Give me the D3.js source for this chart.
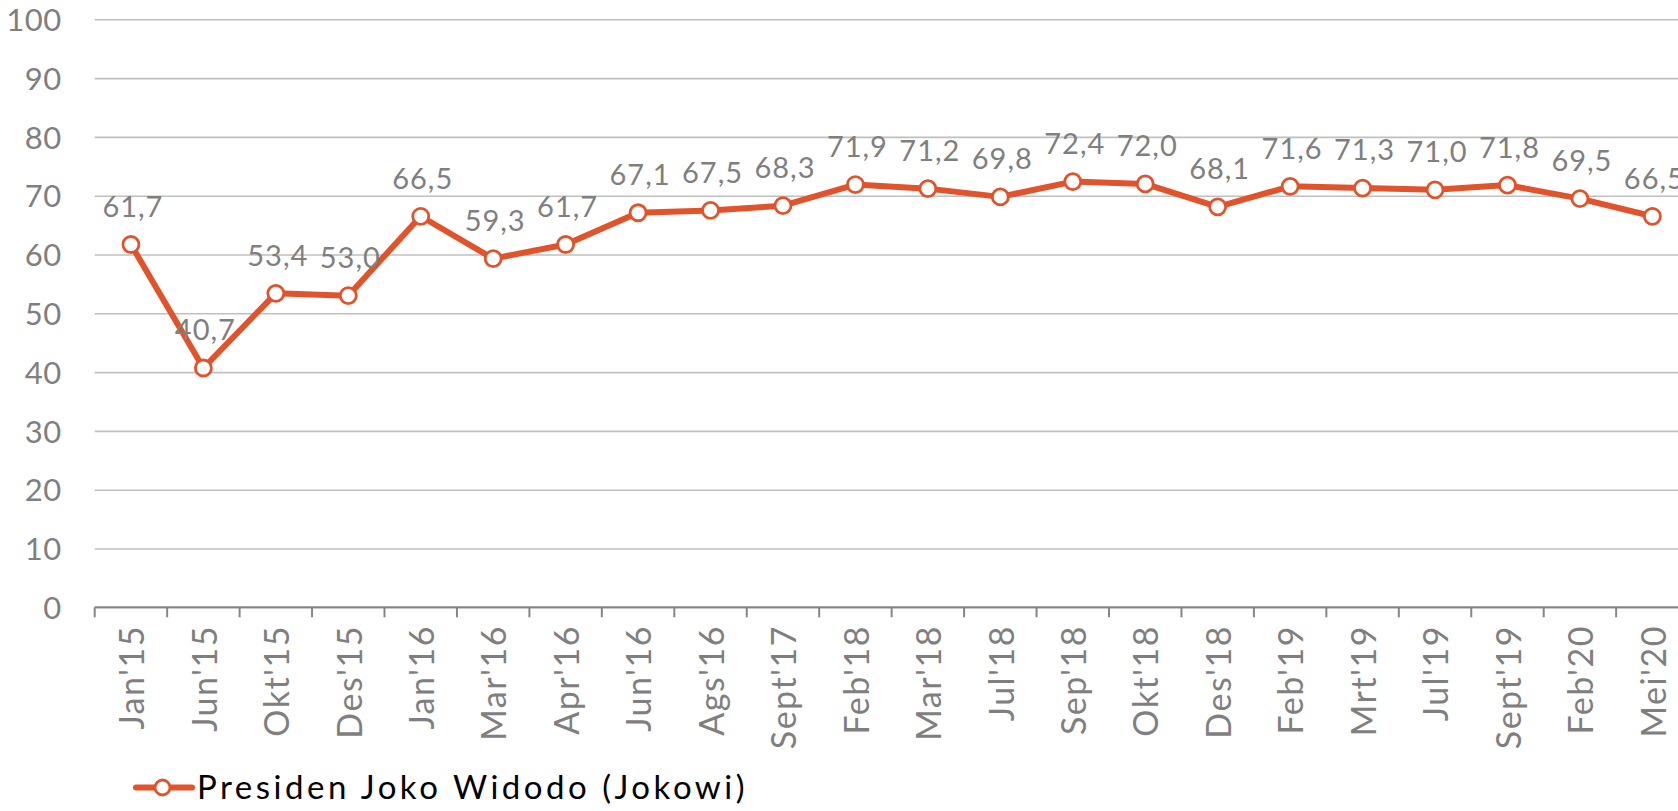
<!DOCTYPE html>
<html>
<head>
<meta charset="utf-8" />
<script src="https://cdn.jsdelivr.net/npm/d3@7"></script>
<style>
  html, body { margin: 0; padding: 0; background: #fff; overflow: hidden; }
  svg { display: block; font-family: Lato, "Open Sans", sans-serif; }
</style>
</head>
<body>
<div id="chart"></div>
<script>
// Data
const categories = ["Jan'15", "Jun'15", "Okt'15", "Des'15", "Jan'16", "Mar'16", "Apr'16", "Jun'16",
    "Ags'16", "Sept'17", "Feb'18", "Mar'18", "Jul'18", "Sep'18", "Okt'18", "Des'18", "Feb'19",
    "Mrt'19", "Jul'19", "Sept'19", "Feb'20", "Mei'20"];
const approval = [61.7, 40.7, 53.4, 53.0, 66.5, 59.3, 61.7, 67.1, 67.5, 68.3, 71.9, 71.2, 69.8,
    72.4, 72.0, 68.1, 71.6, 71.3, 71.0, 71.8, 69.5, 66.5];
const yTicks = [0, 10, 20, 30, 40, 50, 60, 70, 80, 90, 100];
const seriesName = "Presiden Joko Widodo (Jokowi)";

const width = 1678;
const height = 811;
const margin = { top: 19.3, left: 94.7, bottom: 607.3, right: 1688.6 };

const lineColor = "#e0532b";
const textGrey = "#7f7f7f";

const svg = d3.select("#chart")
    .append("svg")
    .attr("width", width)
    .attr("height", height);

const x = d3.scaleBand()
    .domain(categories)
    .range([margin.left, margin.right])
    .padding(0);

const y = d3.scaleLinear()
    .domain([0, 100])
    .range([margin.bottom, margin.top]);

const cx = c => x(c) + x.bandwidth() / 2;

// Gridlines + y labels
const yAxis = svg.append("g")
    .attr("transform", `translate(${margin.left},0)`)
    .call(d3.axisLeft(y).tickValues(yTicks).tickSize(-(margin.right - margin.left)).tickPadding(33))
    .attr("font-family", null)
    .attr("font-size", null);

yAxis.select(".domain").remove();
yAxis.selectAll(".tick line")
    .attr("stroke", "#bfbfbf")
    .attr("stroke-width", 1.6);
yAxis.selectAll(".tick text")
    .attr("fill", textGrey)
    .style("font-size", "31px")
    .style("letter-spacing", "0.5px")
    .attr("dy", "0.36em");

// x axis line with ticks at category boundaries
const xAxis = svg.append("g");
xAxis.append("line")
    .attr("x1", margin.left)
    .attr("x2", margin.right)
    .attr("y1", y(0))
    .attr("y2", y(0))
    .attr("stroke", "#868686")
    .attr("stroke-width", 2);

const boundaries = categories.map(c => x(c)).concat([x(categories[categories.length - 1]) + x.bandwidth()]);
xAxis.selectAll("line.tick")
    .data(boundaries)
    .enter()
    .append("line")
    .attr("class", "tick")
    .attr("x1", d => d)
    .attr("x2", d => d)
    .attr("y1", y(0))
    .attr("y2", y(0) + 10)
    .attr("stroke", "#868686")
    .attr("stroke-width", 2);

xAxis.selectAll("text")
    .data(categories)
    .enter()
    .append("text")
    .attr("transform", d => `translate(${cx(d) + 1},625) rotate(-90)`)
    .attr("text-anchor", "end")
    .attr("dy", "0.36em")
    .attr("fill", textGrey)
    .style("font-size", "34px")
    .style("letter-spacing", "1.5px")
    .text(d => d);

// Line
const points = categories.map((c, i) => ({ c, v: approval[i] }));

svg.append("path")
    .datum(points)
    .attr("fill", "none")
    .attr("stroke", lineColor)
    .attr("stroke-width", 6)
    .attr("stroke-linejoin", "round")
    .attr("d", d3.line().x(d => cx(d.c)).y(d => y(d.v)));

svg.selectAll("circle.pt")
    .data(points)
    .enter()
    .append("circle")
    .attr("class", "pt")
    .attr("cx", d => cx(d.c))
    .attr("cy", d => y(d.v))
    .attr("r", 8)
    .attr("fill", "#fff")
    .attr("stroke", lineColor)
    .attr("stroke-width", 2.8);

// Data labels
svg.selectAll("text.lbl")
    .data(points)
    .enter()
    .append("text")
    .attr("class", "lbl")
    .attr("x", d => cx(d.c) + 2)
    .attr("y", d => y(d.v) - 38)
    .attr("dy", "0.36em")
    .attr("text-anchor", "middle")
    .attr("fill", textGrey)
    .style("font-size", "29px")
    .style("letter-spacing", "1px")
    .text(d => d3.format(".1f")(d.v).replace(".", ","));

// Legend
const legend = svg.append("g").attr("transform", "translate(136,787.5)");
legend.append("line")
    .attr("x1", 0)
    .attr("x2", 56)
    .attr("stroke", lineColor)
    .attr("stroke-width", 6)
    .attr("stroke-linecap", "round");
legend.append("circle")
    .attr("cx", 26.5)
    .attr("r", 7.5)
    .attr("fill", "#fff")
    .attr("stroke", lineColor)
    .attr("stroke-width", 2.8);
legend.append("text")
    .attr("x", 61)
    .attr("dy", "0.36em")
    .attr("fill", "#000")
    .style("font-size", "33px")
    .style("letter-spacing", "3.5px")
    .text(seriesName);
</script>
</body>
</html>
